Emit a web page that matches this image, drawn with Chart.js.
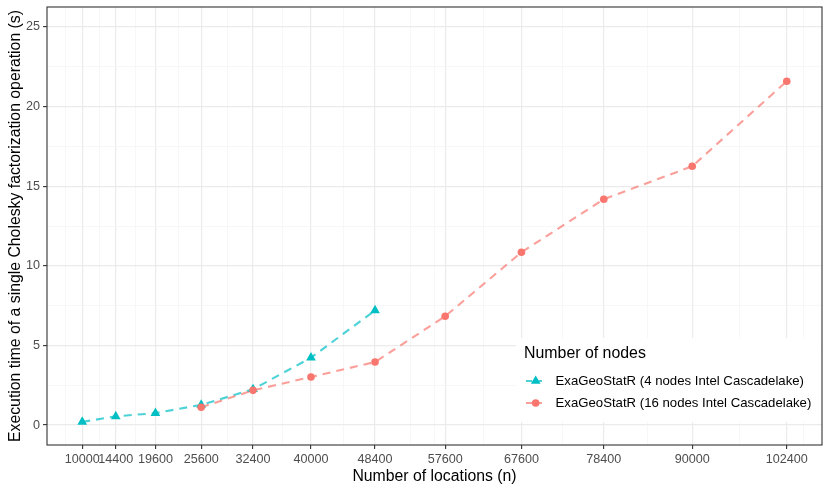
<!DOCTYPE html>
<html>
<head>
<meta charset="utf-8">
<script src="https://cdn.jsdelivr.net/npm/chart.js@4.4.1/dist/chart.umd.min.js"></script>
<style>
  html, body { margin: 0; padding: 0; background: #fff; }
  #wrap { width: 830px; height: 491px; position: relative; }
</style>
</head>
<body>
<div id="wrap"><canvas id="c"></canvas></div>
<script>
// ---- data ----
const xTicksMajor = [10000, 14400, 19600, 25600, 32400, 40000, 48400, 57600, 67600, 78400, 90000, 102400];
const xTicksMinor = [7800, 12200, 17000, 22600, 29000, 36200, 44200, 53000, 56200, 62600, 73000, 84200, 96200, 104600];
const yTicksMajor = [0, 5, 10, 15, 20, 25];
const yTicksMinor = [2.5, 7.5, 12.5, 17.5, 22.5];

const nodes4Label = 'ExaGeoStatR (4 nodes Intel Cascadelake)';
const nodes4X = [10000, 14400, 19600, 25600, 32400, 40000, 48400];
const nodes4Y = [0.2, 0.55, 0.75, 1.27, 2.25, 4.23, 7.2];

const nodes16Label = 'ExaGeoStatR (16 nodes Intel Cascadelake)';
const nodes16X = [25600, 32400, 40000, 48400, 57600, 67600, 78400, 90000, 102400];
const nodes16Y = [1.12, 2.18, 3.02, 3.96, 6.83, 10.85, 14.18, 16.25, 21.59];

const legendTitle = 'Number of nodes';
const xTitle = 'Number of locations (n)';
const yTitle = 'Execution time of a single Cholesky factorization operation (s)';

// ---- styles ----
const CYAN = '#00BFC4', CYAN_LINE = 'rgba(0,191,196,0.7)';
const RED = '#F8766D', RED_LINE = 'rgba(248,118,109,0.7)';
const FONT = "'Liberation Sans', Arial, Helvetica, sans-serif";
const DASH = [8, 6];

const xMajorSet = new Set(xTicksMajor);
const yMajorSet = new Set(yTicksMajor);
const pts = (xs, ys) => xs.map((x, i) => ({ x: x, y: ys[i] }));

const series = [
  { label: nodes4Label, xs: nodes4X, ys: nodes4Y, color: CYAN, line: CYAN_LINE, shape: 'triangle', r: 5.6 },
  { label: nodes16Label, xs: nodes16X, ys: nodes16Y, color: RED, line: RED_LINE, shape: 'circle', r: 3.8 }
];

const datasets = [];
series.forEach((s, i) => datasets.push({
  label: s.label, data: pts(s.xs, s.ys), borderColor: s.line, borderWidth: 2.1,
  borderDash: DASH, borderCapStyle: 'butt', pointRadius: 0, fill: false, tension: 0,
  order: 10 - i
}));
series.forEach((s, i) => datasets.push({
  label: s.label, data: pts(s.xs, s.ys), showLine: false, pointStyle: s.shape,
  pointRadius: s.r, pointBackgroundColor: s.color, pointBorderColor: s.color, pointBorderWidth: 0,
  order: 5 - i
}));

const panelPlugin = {
  id: 'panel',
  afterDraw(chart) {
    const { ctx, chartArea: a } = chart;
    ctx.save();
    const lx = 516, ly = 338, lw = 305, lh = 84;
    ctx.fillStyle = '#ffffff';
    ctx.fillRect(lx, ly, lw, lh);
    ctx.fillStyle = '#000';
    ctx.textBaseline = 'middle';
    ctx.textAlign = 'left';
    ctx.font = '15.9px ' + FONT;
    ctx.fillText(legendTitle, 524, 353.5);
    ctx.font = '13.2px ' + FONT;
    const rows = [381, 403];
    series.forEach((s, i) => {
      const y = rows[i];
      ctx.strokeStyle = s.line;
      ctx.lineWidth = 2.1;
      ctx.setLineDash([6, 4]);
      ctx.beginPath();
      ctx.moveTo(526, y);
      ctx.lineTo(545.5, y);
      ctx.stroke();
      ctx.setLineDash([]);
      ctx.fillStyle = s.color;
      if (s.shape === 'triangle') {
        const r = s.r;
        ctx.beginPath();
        ctx.moveTo(535.7, y - r);
        ctx.lineTo(535.7 + r * Math.sqrt(3) / 2, y + r / 2);
        ctx.lineTo(535.7 - r * Math.sqrt(3) / 2, y + r / 2);
        ctx.closePath();
        ctx.fill();
      } else {
        ctx.beginPath();
        ctx.arc(535.7, y, s.r, 0, Math.PI * 2);
        ctx.fill();
      }
      ctx.fillStyle = '#000';
      ctx.fillText(s.label, 555.5, y);
    });
    ctx.strokeStyle = '#333333';
    ctx.lineWidth = 1.1;
    ctx.strokeRect(a.left, a.top, a.right - a.left, a.bottom - a.top);
    ctx.restore();
  }
};

new Chart(document.getElementById('c'), {
  type: 'line',
  data: { datasets: datasets },
  options: {
    responsive: true,
    maintainAspectRatio: false,
    devicePixelRatio: 1,
    animation: false,
    layout: { padding: { left: 0, top: 7, right: 8, bottom: 0 } },
    plugins: { legend: { display: false }, tooltip: { enabled: false } },
    scales: {
      x: {
        type: 'linear',
        min: 5380, max: 107020,
        afterBuildTicks: (sc) => { sc.ticks = xTicksMajor.concat(xTicksMinor).sort((a, b) => a - b).map(v => ({ value: v })); },
        afterFit: (sc) => { sc.height = 46; sc.paddingLeft = 0; sc.paddingRight = 0; sc.paddingTop = 0; sc.paddingBottom = 0; },
        border: { display: false },
        grid: {
          drawTicks: true, tickLength: 4,
          color: (c) => xMajorSet.has(c.tick.value) ? '#EBEBEB' : '#F3F3F3',
          lineWidth: (c) => xMajorSet.has(c.tick.value) ? 1.2 : 0.7,
          tickColor: (c) => xMajorSet.has(c.tick.value) ? '#333333' : 'rgba(0,0,0,0)',
          tickWidth: 1.1
        },
        ticks: {
          autoSkip: false, maxRotation: 0, minRotation: 0, padding: 3,
          color: '#4D4D4D', font: { family: FONT, size: 12.6 },
          callback: (v) => xMajorSet.has(v) ? String(v) : ''
        },
        title: { display: true, text: xTitle, color: '#000', font: { family: FONT, size: 15.8 }, padding: { top: 0, bottom: 5 } }
      },
      y: {
        type: 'linear',
        min: -1.25, max: 26.25,
        afterBuildTicks: (sc) => { sc.ticks = yTicksMajor.concat(yTicksMinor).sort((a, b) => a - b).map(v => ({ value: v })); },
        afterFit: (sc) => { sc.width = 47; sc.paddingTop = 0; sc.paddingBottom = 0; sc.paddingLeft = 0; sc.paddingRight = 0; },
        border: { display: false },
        grid: {
          drawTicks: true, tickLength: 4,
          color: (c) => yMajorSet.has(c.tick.value) ? '#EBEBEB' : '#F3F3F3',
          lineWidth: (c) => yMajorSet.has(c.tick.value) ? 1.2 : 0.7,
          tickColor: (c) => yMajorSet.has(c.tick.value) ? '#333333' : 'rgba(0,0,0,0)',
          tickWidth: 1.1
        },
        ticks: {
          autoSkip: false, padding: 3,
          color: '#4D4D4D', font: { family: FONT, size: 12.6 },
          callback: (v) => yMajorSet.has(v) ? String(v) : ''
        },
        title: { display: true, text: yTitle, color: '#000', font: { family: FONT, size: 15.8 }, padding: { top: 6, bottom: 0 } }
      }
    }
  },
  plugins: [panelPlugin]
});
</script>
</body>
</html>
